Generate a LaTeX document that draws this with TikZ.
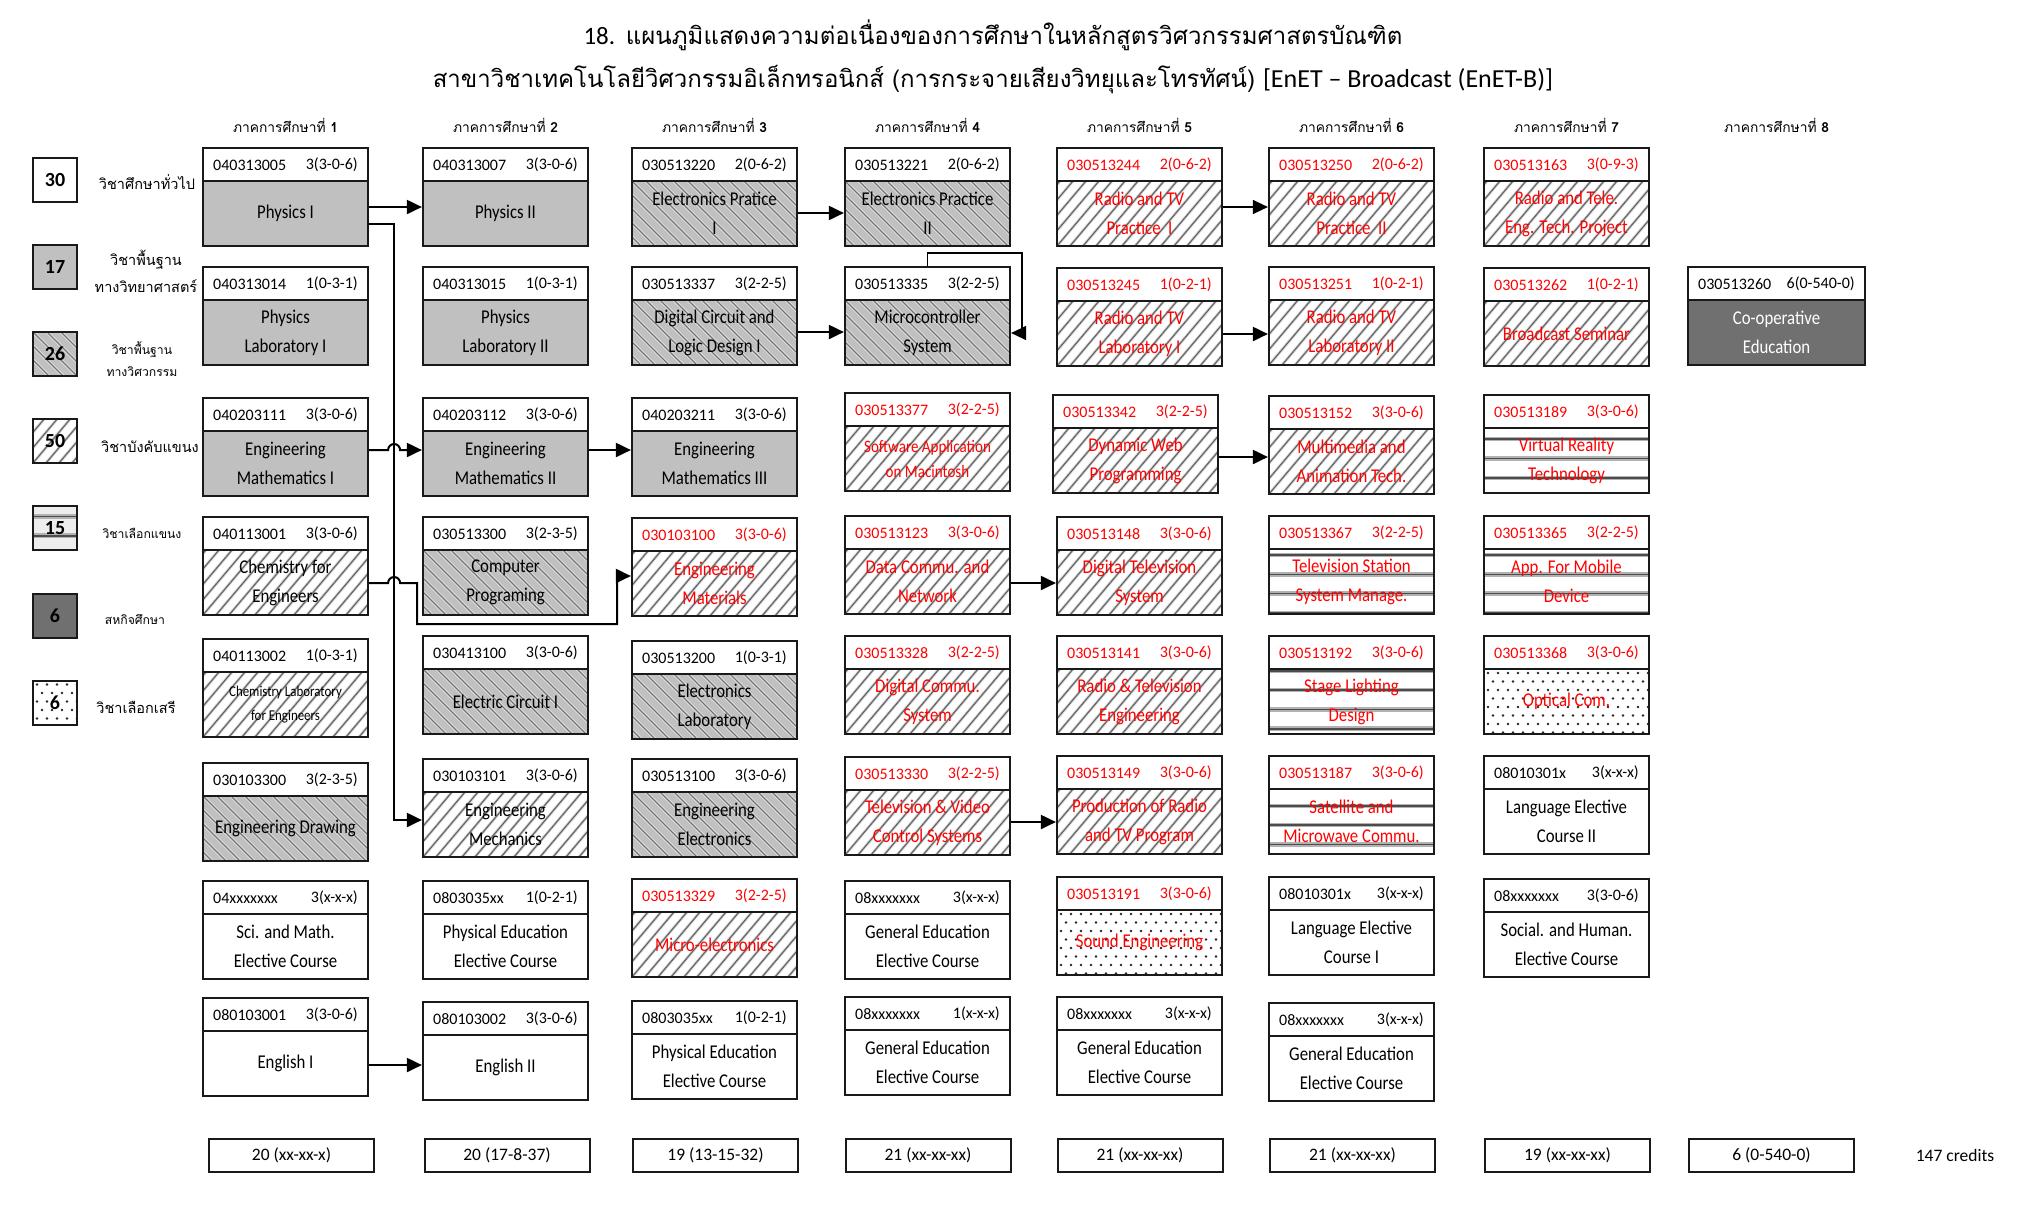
\documentclass[tikz,border=0pt]{standalone}
\usepackage{fontspec}
\setmainfont{Carlito}
\newfontfamily\thaifont[Script=Thai]{Loma}
\newfontfamily\bxf{Carlito}[FakeStretch=0.86]
\usetikzlibrary{arrows.meta}
\definecolor{scigray}{HTML}{C0C0C0}
\definecolor{coopgray}{HTML}{707070}
\definecolor{rd}{HTML}{FF0000}
\tikzset{
 crsbox/.style={rectangle, draw=black!90, line width=2.2pt, inner sep=0pt, minimum height=98pt},
 divline/.style={draw=black!90, line width=2.2pt},
 codetxt/.style={font=\fontsize{16}{18}\selectfont, inner sep=0pt},
 ttl/.style={font=\bxf\fontsize{19.5}{29}\selectfont, align=center, inner sep=0pt},
 hatchL/.style={draw=black!10, line width=3pt},
 hatchD/.style={draw=black!55, line width=1.2pt},
 majL/.style={draw=black!15, line width=3pt},
 majD/.style={draw=black!60, line width=1.2pt},
 hlL/.style={draw=black!30, line width=4.5pt},
 hlD/.style={draw=black!70, line width=1.6pt},
 conn/.style={draw=black, line width=2pt, -{Triangle[length=15pt,width=14pt]}},
 connthin/.style={draw=black, line width=1.3pt, -{Triangle[length=15pt,width=14pt]}},
 semh/.style={font=\thaifont\fontsize{13.8}{17}\selectfont, inner sep=0pt},
 titlet/.style={font=\thaifont\fontsize{24}{30}\selectfont, inner sep=0pt},
 legbox/.style={rectangle, draw=black!90, line width=2pt, minimum width=44pt, minimum height=44pt, inner sep=0pt, font=\bfseries\fontsize{20}{22}\selectfont},
 legbig/.style={font=\thaifont\fontsize{14.5}{27}\selectfont, align=center, inner sep=0pt},
 legsmall/.style={font=\thaifont\fontsize{12.2}{22}\selectfont, align=center, inner sep=0pt},
 totbox/.style={rectangle, draw=black!90, line width=2pt, minimum width=165pt, minimum height=33pt, inner sep=0pt, font=\fontsize{17.5}{19}\selectfont},
}
\def\kWdef{165}
% pattern macros on region \pX,\pY,\pW,\pH (y downwards)
\newcommand{\patplain}{}
\newcommand{\patsci}{\fill[scigray] (\pX,\pY) rectangle ++(\pW,\pH);}
\newcommand{\pateng}{\fill[scigray] (\pX,\pY) rectangle ++(\pW,\pH);
 \begin{scope}\clip (\pX,\pY) rectangle ++(\pW,\pH);
 \foreach \i in {-6,...,14}{\draw[hatchL] (\pX+\i*14,\pY) -- ++(\pH,\pH);
   \draw[hatchD] (\pX+\i*14,\pY) -- ++(\pH,\pH);}
 \end{scope}}
\newcommand{\patmaj}{\begin{scope}\clip (\pX,\pY) rectangle ++(\pW,\pH);
 \foreach \i in {-6,...,15}{\draw[majL] (\pX+\i*13,\pY+\pH) -- ++(\pH*0.846,-\pH);
   \draw[majD] (\pX+\i*13,\pY+\pH) -- ++(\pH*0.846,-\pH);}
 \end{scope}}
\newcommand{\pathl}{\begin{scope}\clip (\pX,\pY) rectangle ++(\pW,\pH);
 \foreach \k in {-22,...,30}{\draw[hlL] (\pX,555+19.3*\k) -- ++(\pW,0);
   \draw[hlD] (\pX,555+19.3*\k) -- ++(\pW,0);}
 \end{scope}}
\newcommand{\patdot}{\begin{scope}\clip (\pX,\pY) rectangle ++(\pW,\pH);
 \foreach \r in {0,...,8}{\foreach \c in {0,...,18}{
   \fill[black!85] ({\pX+4+\c*10+5*mod(\r,2)},{\pY+4+\r*8.5}) circle[radius=1.3];}}
 \end{scope}}
\newcommand{\patcoop}{\fill[coopgray] (\pX,\pY) rectangle ++(\pW,\pH);\def\kTC{white}}
% course box: [title opts]{name}{x}{y}{kind}{colour}{code}{credits}{title}
\newcommand{\crs}[9][]{%
 \pgfmathsetmacro{\kX}{#3}\pgfmathsetmacro{\kY}{#4}\let\kW\kWdef
 \def\kTC{#6}%
 \pgfmathsetmacro{\pX}{#3}\pgfmathsetmacro{\pY}{#4+33}\let\pW\kWdef\def\pH{65}%
 \csname pat#5\endcsname
 \node[crsbox, minimum width=\kW pt] (#2) at (\kX+\kW/2,\kY+49) {};
 \draw[divline] (\kX,\kY+33) -- ++(\kW,0);
 \node[codetxt,text=#6,anchor=west] (#2-code) at (\kX+10,\kY+17) {#7};
 \node[codetxt,text=#6,anchor=east] (#2-cr) at (\kX+\kW-10,\kY+17) {#8};
 \node[ttl,text=\kTC,#1] (#2-t) at (\kX+\kW/2,\kY+65.5) {#9};
}
\begin{document}
\begin{tikzpicture}[x=1pt,y=-1pt]
\useasboundingbox (0,0) rectangle (2022,1208);
\fill[white] (0,0) rectangle (2022,1208);

% title
\node[titlet] (title1) at (993,35) {{\rmfamily\fontsize{25}{30}\selectfont 18.} แผนภูมิแสดงความต่อเนื่องของการศึกษาในหลักสูตรวิศวกรรมศาสตรบัณฑิต};
\node[titlet] (title2) at (993,80) {สาขาวิชาเทคโนโลยีวิศวกรรมอิเล็กทรอนิกส์ (การกระจายเสียงวิทยุและโทรทัศน์) {\rmfamily\fontsize{26}{30}\selectfont [EnET – Broadcast (EnET-B)]}};

% semester headers
\node[semh] (s1) at (285.5,125) {ภาคการศึกษาที่ \textbf{1}};
\node[semh] (s2) at (505.5,125) {ภาคการศึกษาที่ \textbf{2}};
\node[semh] (s3) at (714.5,125) {ภาคการศึกษาที่ \textbf{3}};
\node[semh] (s4) at (927.5,125) {ภาคการศึกษาที่ \textbf{4}};
\node[semh] (s5) at (1139.5,125) {ภาคการศึกษาที่ \textbf{5}};
\node[semh] (s6) at (1351.5,125) {ภาคการศึกษาที่ \textbf{6}};
\node[semh] (s7) at (1566.5,125) {ภาคการศึกษาที่ \textbf{7}};
\node[semh] (s8) at (1776.5,125) {ภาคการศึกษาที่ \textbf{8}};

% legend
\node[legbox] (L30) at (55,180) {30};
\node[legbox, fill=scigray] (L17) at (55,267) {17};
\def\pX{33}\def\pY{332}\def\pW{44}\def\pH{44}\pateng
\node[legbox] (L26) at (55,354) {26};
\def\pX{33}\def\pY{419}\def\pW{44}\def\pH{44}\patmaj
\node[legbox] (L50) at (55,441) {50};
\fill[black!7] (33,506) rectangle (77,550);
\def\pX{33}\def\pY{506}\def\pW{44}\def\pH{44}\pathl
\node[legbox] (L15) at (55,528) {15};
\node[legbox, fill=coopgray] (L6a) at (55,615.5) {6};
\def\pX{33}\def\pY{680.5}\def\pW{44}\def\pH{44}\patdot
\node[legbox] (L6b) at (55,702.5) {6};

\node[legbig] (Lt1) at (147,182) {วิชาศึกษาทั่วไป};
\node[legbig] (Lt2) at (146,271) {วิชาพื้นฐาน\\ทางวิทยาศาสตร์};
\node[legsmall] (Lt3) at (142,359) {วิชาพื้นฐาน\\ทางวิศวกรรม};
\node[legbig] (Lt4) at (150,447) {วิชาบังคับแขนง};
\node[legsmall] (Lt5) at (142,533) {วิชาเลือกแขนง};
\node[legsmall] (Lt6) at (135,620) {สหกิจศึกษา};
\node[legbig] (Lt7) at (136,707) {วิชาเลือกเสรี};

% semester 1
\crs{a1}{203}{148}{sci}{black}{040313005}{3(3-0-6)}{Physics I}
\crs{a2}{203}{267}{sci}{black}{040313014}{1(0-3-1)}{Physics\\Laboratory I}
\crs{a3}{203}{398}{sci}{black}{040203111}{3(3-0-6)}{Engineering\\Mathematics I}
\crs{a4}{203}{517}{maj}{black}{040113001}{3(3-0-6)}{Chemistry for\\Engineers}
\crs[font=\bxf\fontsize{15}{24}\selectfont]{a5}{203}{639}{maj}{black}{040113002}{1(0-3-1)}{Chemistry Laboratory\\for Engineers}
\crs{a6}{203}{763}{eng}{black}{030103300}{3(2-3-5)}{Engineering Drawing}
\crs{a7}{203}{881}{plain}{black}{04xxxxxxx}{3(x-x-x)}{Sci. and Math.\\Elective Course}
\crs{a8}{203}{998}{plain}{black}{080103001}{3(3-0-6)}{English I}
% semester 2
\crs{b1}{423}{148}{sci}{black}{040313007}{3(3-0-6)}{Physics II}
\crs{b2}{423}{267}{sci}{black}{040313015}{1(0-3-1)}{Physics\\Laboratory II}
\crs{b3}{423}{398}{sci}{black}{040203112}{3(3-0-6)}{Engineering\\Mathematics II}
\crs{b4}{423}{517}{eng}{black}{030513300}{3(2-3-5)}{Computer\\Programing}
\crs{b5}{423}{636}{eng}{black}{030413100}{3(3-0-6)}{Electric Circuit I}
\crs{b6}{423}{759}{maj}{black}{030103101}{3(3-0-6)}{Engineering\\Mechanics}
\crs{b7}{423}{881}{plain}{black}{0803035xx}{1(0-2-1)}{Physical Education\\Elective Course}
\crs{b8}{423}{1002}{plain}{black}{080103002}{3(3-0-6)}{English II}
% semester 3
\crs{c1}{632}{148}{eng}{black}{030513220}{2(0-6-2)}{Electronics Pratice\\I}
\crs{c2}{632}{267}{eng}{black}{030513337}{3(2-2-5)}{Digital Circuit and\\Logic Design I}
\crs{c3}{632}{398}{sci}{black}{040203211}{3(3-0-6)}{Engineering\\Mathematics III}
\crs{c4}{632}{518}{maj}{rd}{030103100}{3(3-0-6)}{Engineering\\Materials}
\crs{c5}{632}{641}{eng}{black}{030513200}{1(0-3-1)}{Electronics\\Laboratory}
\crs{c6}{632}{759}{eng}{black}{030513100}{3(3-0-6)}{Engineering\\Electronics}
\crs{c7}{632}{879}{maj}{rd}{030513329}{3(2-2-5)}{Micro-electronics}
\crs{c8}{632}{1001}{plain}{black}{0803035xx}{1(0-2-1)}{Physical Education\\Elective Course}
% semester 4
\crs{d1}{845}{148}{eng}{black}{030513221}{2(0-6-2)}{Electronics Practice\\II}
\crs{d2}{845}{267}{eng}{black}{030513335}{3(2-2-5)}{Microcontroller\\System}
\crs[font=\bxf\fontsize{17.5}{25}\selectfont]{d3}{845}{393}{maj}{rd}{030513377}{3(2-2-5)}{Software Application\\on Macintosh}
\crs{d4}{845}{516}{maj}{rd}{030513123}{3(3-0-6)}{Data Commu. and\\Network}
\crs{d5}{845}{636}{maj}{rd}{030513328}{3(2-2-5)}{Digital Commu.\\System}
\crs{d6}{845}{757}{maj}{rd}{030513330}{3(2-2-5)}{Television \& Video\\Control Systems}
\crs{d7}{845}{881}{plain}{black}{08xxxxxxx}{3(x-x-x)}{General Education\\Elective Course}
\crs{d8}{845}{997}{plain}{black}{08xxxxxxx}{1(x-x-x)}{General Education\\Elective Course}
% semester 5
\crs{e1}{1057}{148}{maj}{rd}{030513244}{2(0-6-2)}{Radio and TV\\Practice\ \ I}
\crs{e2}{1057}{268}{maj}{rd}{030513245}{1(0-2-1)}{Radio and TV\\Laboratory I}
\crs{e3}{1053}{395}{maj}{rd}{030513342}{3(2-2-5)}{Dynamic Web\\Programming}
\crs{e4}{1057}{517}{maj}{rd}{030513148}{3(3-0-6)}{Digital Television\\System}
\crs{e5}{1057}{636}{maj}{rd}{030513141}{3(3-0-6)}{Radio \& Television\\Engineering}
\crs{e6}{1057}{756}{maj}{rd}{030513149}{3(3-0-6)}{Production of Radio\\and TV Program}
\crs{e7}{1057}{877}{dot}{rd}{030513191}{3(3-0-6)}{Sound Engineering}
\crs{e8}{1057}{997}{plain}{black}{08xxxxxxx}{3(x-x-x)}{General Education\\Elective Course}
% semester 6
\crs{f1}{1269}{148}{maj}{rd}{030513250}{2(0-6-2)}{Radio and TV\\Practice\ \ II}
\crs{f2}{1269}{267}{maj}{rd}{030513251}{1(0-2-1)}{Radio and TV\\Laboratory II}
\crs{f3}{1269}{396}{maj}{rd}{030513152}{3(3-0-6)}{Multimedia and\\Animation Tech.}
\crs{f4}{1269}{516}{hl}{rd}{030513367}{3(2-2-5)}{Television Station\\System Manage.}
\crs{f5}{1269}{636}{hl}{rd}{030513192}{3(3-0-6)}{Stage Lighting\\Design}
\crs{f6}{1269}{756}{hl}{rd}{030513187}{3(3-0-6)}{Satellite and\\Microwave Commu.}
\crs{f7}{1269}{877}{plain}{black}{08010301x}{3(x-x-x)}{Language Elective\\Course I}
\crs{f8}{1269}{1003}{plain}{black}{08xxxxxxx}{3(x-x-x)}{General Education\\Elective Course}
% semester 7
\crs{g1}{1484}{148}{maj}{rd}{030513163}{3(0-9-3)}{Radio and Tele.\\Eng. Tech. Project}
\crs{g2}{1484}{268}{maj}{rd}{030513262}{1(0-2-1)}{Broadcast Seminar}
\crs{g3}{1484}{395}{hl}{rd}{030513189}{3(3-0-6)}{Virtual Reality\\Technology}
\crs{g4}{1484}{516}{hl}{rd}{030513365}{3(2-2-5)}{App. For Mobile\\Device}
\crs{g5}{1484}{636}{dot}{rd}{030513368}{3(3-0-6)}{Optical Com.}
\crs{g6}{1484}{756}{plain}{black}{08010301x}{3(x-x-x)}{Language Elective\\Course II}
\crs{g7}{1484}{879}{plain}{black}{08xxxxxxx}{3(3-0-6)}{Social. and Human.\\Elective Course}
% semester 8
\def\kWdef{177}
\crs{h2}{1688}{267}{coop}{black}{030513260}{6(0-540-0)}{Co-operative\\Education}
\def\kWdef{165}

% totals
\node[totbox] (tot1) at (291.5,1155.5) {20 (xx-xx-x)};
\node[totbox] (tot2) at (507,1155.5) {20 (17-8-37)};
\node[totbox] (tot3) at (715.5,1155.5) {19 (13-15-32)};
\node[totbox] (tot4) at (928,1155.5) {21 (xx-xx-xx)};
\node[totbox] (tot5) at (1140,1155.5) {21 (xx-xx-xx)};
\node[totbox] (tot6) at (1352.5,1155.5) {21 (xx-xx-xx)};
\node[totbox] (tot7) at (1567.5,1155.5) {19 (xx-xx-xx)};
\node[totbox] (tot8) at (1771.5,1155.5) {6 (0-540-0)};
\node[font=\fontsize{17.5}{19}\selectfont, inner sep=0pt] (credits) at (1955,1155.5) {147 credits};

% connectors
\draw[conn] (a1.east |- 0,207) -- (b1.west |- 0,207);
\draw[conn] (a1.east |- 0,224) -- ++(25,0) |- (b6.west |- 0,820);
\draw[conn] (a3.east |- 0,450) -- ++(19,0) arc[start angle=180,end angle=360,radius=6] -- (b3.west |- 0,450);
\draw[conn] (b3.east |- 0,450) -- (c3.west |- 0,450);
\draw[conn] (a4.east |- 0,583) -- ++(19,0) arc[start angle=180,end angle=360,radius=6] -- ++(17,0) -- ++(0,41) -- ++(200,0) -- ++(0,-48) -- (c4.west |- 0,576);
\draw[conn] (c1.east |- 0,213) -- (d1.west |- 0,213);
\draw[conn] (c2.east |- 0,332) -- (d2.west |- 0,332);
\draw[connthin] (d2.north) -- ++(0,-13) -| (1022,333) -- (d2.east |- 0,333);
\draw[conn] (d4.east |- 0,583) -- (e4.west |- 0,583);
\draw[conn] (d6.east |- 0,822) -- (e6.west |- 0,822);
\draw[connthin] (e1.east |- 0,207) -- (f1.west |- 0,207);
\draw[conn] (e2.east |- 0,334) -- (f2.west |- 0,334);
\draw[conn] (e3.east |- 0,457) -- (f3.west |- 0,457);
\draw[conn] (a8.east |- 0,1065) -- (b8.west |- 0,1065);
\end{tikzpicture}
\end{document}
